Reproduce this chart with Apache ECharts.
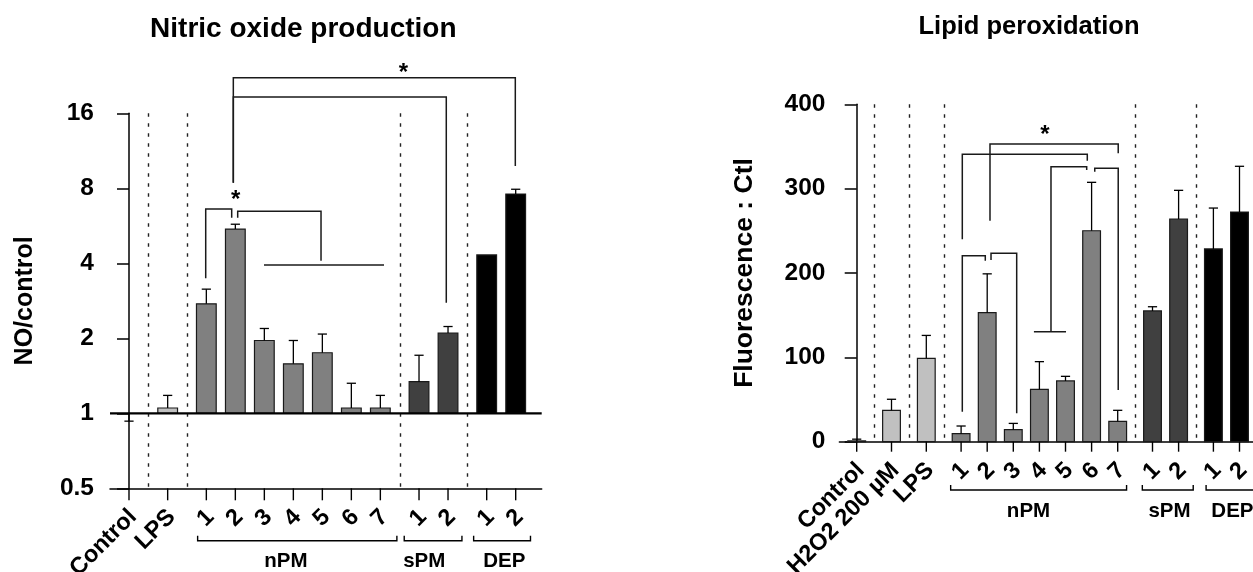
<!DOCTYPE html>
<html>
<head>
<meta charset="utf-8">
<script src="https://cdn.jsdelivr.net/npm/echarts@6/dist/echarts.min.js"></script>
<style>
html,body{margin:0;padding:0;background:#fff;}
#c{width:1253px;height:572px;}
</style>
</head>
<body>
<div id="c"></div>
<script>
// ================= DATA =================
// --- Nitric oxide production (left panel, log2 axis) ---
const noLabels   = ['Control','LPS','1','2','3','4','5','6','7','1','2','1','2'];
const noGroupOf  = [0,1,2,2,2,2,2,2,2,3,3,4,4];
const noMeans    = [1.00,1.05,2.75,5.49,1.96,1.58,1.75,1.05,1.05,1.34,2.10,4.32,7.59];
const noErrEnds  = [0.93,1.18,3.15,5.74,2.19,1.96,2.08,1.32,1.18,1.71,2.23,4.32,7.93];
const noYTicks   = [0.5,1,2,4,8,16];
const noGroupNames = [{name:'nPM',first:2,last:8},{name:'sPM',first:9,last:10},{name:'DEP',first:11,last:12}];
// significance brackets: [x1, yTop, x2, yEnd1, yEnd2] in axis units
const noBrackets = [
  [3.597,22.2,13.32,8.43,9.83],
  [3.597,18.6,10.94,8.43,2.78],
  [2.645,6.61,3.541,3.48,6.10],
  [3.748,6.47,6.621,6.10,4.10],
  [4.655,3.94,8.793,3.94,3.94]
];
const noStars = [[9.46,24.3],[3.68,7.47]];

// --- Lipid peroxidation (right panel) ---
const lpLabels   = ['Control','H2O2 200 µM','LPS','1','2','3','4','5','6','7','1','2','1','2'];
const lpGroupOf  = [0,1,2,3,3,3,3,3,3,3,4,4,5,5];
const lpMeans    = [1,37.2,98.8,9.5,153,14.3,62,72,250.1,24.1,155,264,228.5,272.3];
const lpErrEnds  = [3,50.3,126,18.6,199,21.7,94.9,77.5,307.5,37.2,160,298,277,326.5];
const lpYTicks   = [0,100,200,300,400];
const lpGroupNames = [{name:'nPM',first:3,last:9},{name:'sPM',first:10,last:11},{name:'DEP',first:12,last:13}];
const lpBrackets = [
  [4.046,340.7,8.835,240.0,333.1],
  [5.107,352.9,10.02,262.0,341.9],
  [7.444,326.0,8.812,130.4,322.1],
  [6.79,130.4,8.02,130.4,130.4],
  [9.121,324.1,10.02,320.1,61.3],
  [4.046,220.5,4.927,35.6,214.6],
  [5.146,223.4,6.13,215.4,33.7]
];
const lpStars = [[7.215,369.5]];

// ================= STYLE / LAYOUT =================
const FF = '"Liberation Sans", Arial, Helvetica, sans-serif';
const GROUP_GAP = 1/3;
const BAR_W = 0.68;
const noGroupColors = ['#ffffff','#c0c0c0','#808080','#404040','#000000'];
const lpGroupColors = ['#ffffff','#c0c0c0','#c0c0c0','#808080','#404040','#000000'];
const noGroupPads = [[0.30,0.57],[0.51,0.48],[0.45,0.51]];
const lpGroupPads = [[0.40,0.34],[0.39,0.56],[0.28,0.80]];
const noGroupLabelDx = [-7.5,-9.3,3.2];
const lpGroupLabelDx = [-10.9,4,6];

function buildSeries(c) {
  const pos = c.groupOf.map((g,i)=> i + g*GROUP_GAP);
  const seps = [];
  for (let i=1;i<pos.length;i++) if (c.groupOf[i]!==c.groupOf[i-1]) seps.push((pos[i]+pos[i-1])/2);
  const common = {type:'custom', xAxisIndex:c.grid, yAxisIndex:c.grid, clip:false, silent:true, animation:false};
  const out = [];
  // dotted group separators
  out.push(Object.assign({}, common, {
    z: 1,
    data: seps.map(x=>[x, c.yMin]),
    renderItem(params, api) {
      const cs = params.coordSys;
      const px = Math.round(api.coord([api.value(0), c.yMin])[0]) + 0.5;
      return {type:'line', shape:{x1:px,y1:cs.y,x2:px,y2:cs.y+cs.height},
        style:{stroke:'#222', lineWidth:1.4, lineDash:[3.5,6.5]}};
    }
  }));
  // bars + error bars
  out.push(Object.assign({}, common, {
    z: 2,
    data: pos.map((p,i)=>[p, c.means[i], c.errEnds[i], c.groupOf[i]]),
    renderItem(params, api) {
      const x=api.value(0), m=api.value(1), e=api.value(2), g=api.value(3);
      const pa = api.coord([x-BAR_W/2, c.yBase]);
      const pb = api.coord([x+BAR_W/2, m]);
      const pm = api.coord([x, m]);
      const pe = api.coord([x, e]);
      const ch = [];
      const h = pb[1]-pa[1];
      if (Math.abs(h) > 0.3) {
        ch.push({type:'rect', shape:{x:pa[0], y:Math.min(pa[1],pb[1]), width:pb[0]-pa[0], height:Math.abs(h)},
          style:{fill:c.groupColors[g], stroke:'#1a1a1a', lineWidth:1.2}});
      }
      if (Math.abs(pe[1]-pm[1]) > 0.5) {
        ch.push({type:'line', shape:{x1:pm[0],y1:pm[1],x2:pe[0],y2:pe[1]}, style:{stroke:'#000', lineWidth:1.3}});
        ch.push({type:'line', shape:{x1:pe[0]-4.6,y1:pe[1],x2:pe[0]+4.6,y2:pe[1]}, style:{stroke:'#000', lineWidth:1.3}});
      }
      return {type:'group', children:ch};
    }
  }));
  // baseline at 1 (log panel)
  if (c.baseline) {
    out.push(Object.assign({}, common, {
      z: 3,
      data: [[0, c.yBase]],
      renderItem(params, api) {
        const cs = params.coordSys;
        const py = api.coord([0, c.yBase])[1];
        return {type:'line', shape:{x1:cs.x,y1:py,x2:cs.x+cs.width,y2:py}, style:{stroke:'#000', lineWidth:2.2}};
      }
    }));
  }
  // significance brackets
  out.push(Object.assign({}, common, {
    z: 4,
    data: c.brackets,
    renderItem(params, api) {
      const x1=api.value(0), top=api.value(1), x2=api.value(2), e1=api.value(3), e2=api.value(4);
      const pts = [api.coord([x1,e1]), api.coord([x1,top]), api.coord([x2,top]), api.coord([x2,e2])];
      return {type:'polyline', shape:{points:pts}, style:{stroke:'#1a1a1a', fill:null, lineWidth:1.5}};
    }
  }));
  // stars
  out.push(Object.assign({}, common, {
    z: 5,
    data: c.stars,
    renderItem(params, api) {
      const p = api.coord([api.value(0), api.value(1)]);
      return {type:'text', x:p[0], y:p[1]+5,
        style:{text:'*', fill:'#000', font:'bold 24px '+FF, align:'center', verticalAlign:'middle', textAlign:'center', textVerticalAlign:'middle'}};
    }
  }));
  // x ticks + rotated category labels
  out.push(Object.assign({}, common, {
    z: 5,
    data: pos.map((p,i)=>[p, c.yMin, i]),
    renderItem(params, api) {
      const cs = params.coordSys;
      const bottom = cs.y + cs.height;
      const px = api.coord([api.value(0), c.yMin])[0];
      const i = api.value(2);
      return {type:'group', children:[
        {type:'line', shape:{x1:px,y1:bottom,x2:px,y2:bottom+c.tickLen}, style:{stroke:'#000', lineWidth:1.4}},
        {type:'text', x:px+4, y:bottom+25, rotation:Math.PI/4,
          style:{text:c.labels[i], fill:'#000', font:'bold 23.5px '+FF, align:'right', verticalAlign:'middle', textAlign:'right', textVerticalAlign:'middle'}}
      ]};
    }
  }));
  // group brackets under the axis
  out.push(Object.assign({}, common, {
    z: 5,
    data: c.groupNames.map((gn,k)=>[pos[gn.first]-c.groupPads[k][0], c.yMin, pos[gn.last]+c.groupPads[k][1], k]),
    renderItem(params, api) {
      const cs = params.coordSys;
      const bottom = cs.y + cs.height;
      const k = api.value(3);
      const gn = c.groupNames[k];
      const x1 = api.coord([api.value(0), c.yMin])[0];
      const x2 = api.coord([api.value(2), c.yMin])[0];
      const y = bottom + c.groupDy;
      const mid = (api.coord([pos[gn.first], c.yMin])[0] + api.coord([pos[gn.last], c.yMin])[0]) / 2 + c.groupLabelDx[k];
      return {type:'group', children:[
        {type:'polyline', shape:{points:[[x1,y-5],[x1,y],[x2,y],[x2,y-5]]}, style:{stroke:'#000', fill:null, lineWidth:1.4}},
        {type:'text', x:mid, y:y+21,
          style:{text:gn.name, fill:'#000', font:'bold 20.5px '+FF, align:'center', verticalAlign:'middle', textAlign:'center', textVerticalAlign:'middle'}}
      ]};
    }
  }));
  return out;
}

const axisLineStyle = {color:'#000', width:1.5};
const yLabelStyle = {fontSize:24.5, fontWeight:'bold', color:'#000', fontFamily:FF};

const option = {
  animation: false,
  backgroundColor: '#fff',
  grid: [
    {left:110, top:113.3, width:431.7, height:375, containLabel:false},
    {left:839.4, top:104.3, right:0, height:337.4, containLabel:false}
  ],
  xAxis: [
    {type:'value', gridIndex:0, min:-0.655, max:14.23,
      axisLine:{show:true, onZero:false, lineStyle:axisLineStyle}, axisTick:{show:false}, axisLabel:{show:false}, splitLine:{show:false}},
    {type:'value', gridIndex:1, min:-0.663, max:15.184,
      axisLine:{show:true, onZero:false, lineStyle:axisLineStyle}, axisTick:{show:false}, axisLabel:{show:false}, splitLine:{show:false}}
  ],
  yAxis: [
    {type:'log', logBase:2, gridIndex:0, min:noYTicks[0], max:noYTicks[noYTicks.length-1],
      axisLine:{show:true, lineStyle:axisLineStyle},
      axisTick:{show:true, length:12, lineStyle:axisLineStyle},
      axisLabel:Object.assign({margin:16, formatter:v=>String(+(+v).toPrecision(6))}, yLabelStyle),
      splitLine:{show:false},
      name:'NO/control', nameLocation:'middle', nameRotate:90, nameGap:72,
      nameTextStyle:{fontSize:25, fontWeight:'bold', color:'#000', fontFamily:FF}},
    {type:'value', gridIndex:1, min:lpYTicks[0], max:lpYTicks[lpYTicks.length-1], interval:lpYTicks[1]-lpYTicks[0],
      axisLine:{show:true, lineStyle:axisLineStyle},
      axisTick:{show:true, length:12, lineStyle:axisLineStyle},
      axisLabel:Object.assign({margin:14}, yLabelStyle),
      splitLine:{show:false},
      name:'Fluorescence : Ctl', nameLocation:'middle', nameRotate:90, nameGap:81,
      nameTextStyle:{fontSize:26.5, fontWeight:'bold', color:'#000', fontFamily:FF}}
  ],
  graphic: [
    {type:'text', x:303.3, y:29.3, style:{text:'Nitric oxide production', fill:'#000', font:'bold 28px '+FF, align:'center', verticalAlign:'middle'}},
    {type:'text', x:1029, y:26.5, style:{text:'Lipid peroxidation', fill:'#000', font:'bold 25.5px '+FF, align:'center', verticalAlign:'middle'}}
  ],
  series: [].concat(
    buildSeries({grid:0, labels:noLabels, groupOf:noGroupOf, means:noMeans, errEnds:noErrEnds,
      groupColors:noGroupColors, brackets:noBrackets, stars:noStars, groupNames:noGroupNames,
      groupPads:noGroupPads, groupLabelDx:noGroupLabelDx, yBase:1, yMin:0.5, baseline:true, tickLen:12, groupDy:52.5}),
    buildSeries({grid:1, labels:lpLabels, groupOf:lpGroupOf, means:lpMeans, errEnds:lpErrEnds,
      groupColors:lpGroupColors, brackets:lpBrackets, stars:lpStars, groupNames:lpGroupNames,
      groupPads:lpGroupPads, groupLabelDx:lpGroupLabelDx, yBase:0, yMin:0, baseline:false, tickLen:10, groupDy:48.3})
  )
};

const chart = echarts.init(document.getElementById('c'));
chart.setOption(option);
</script>
</body>
</html>
